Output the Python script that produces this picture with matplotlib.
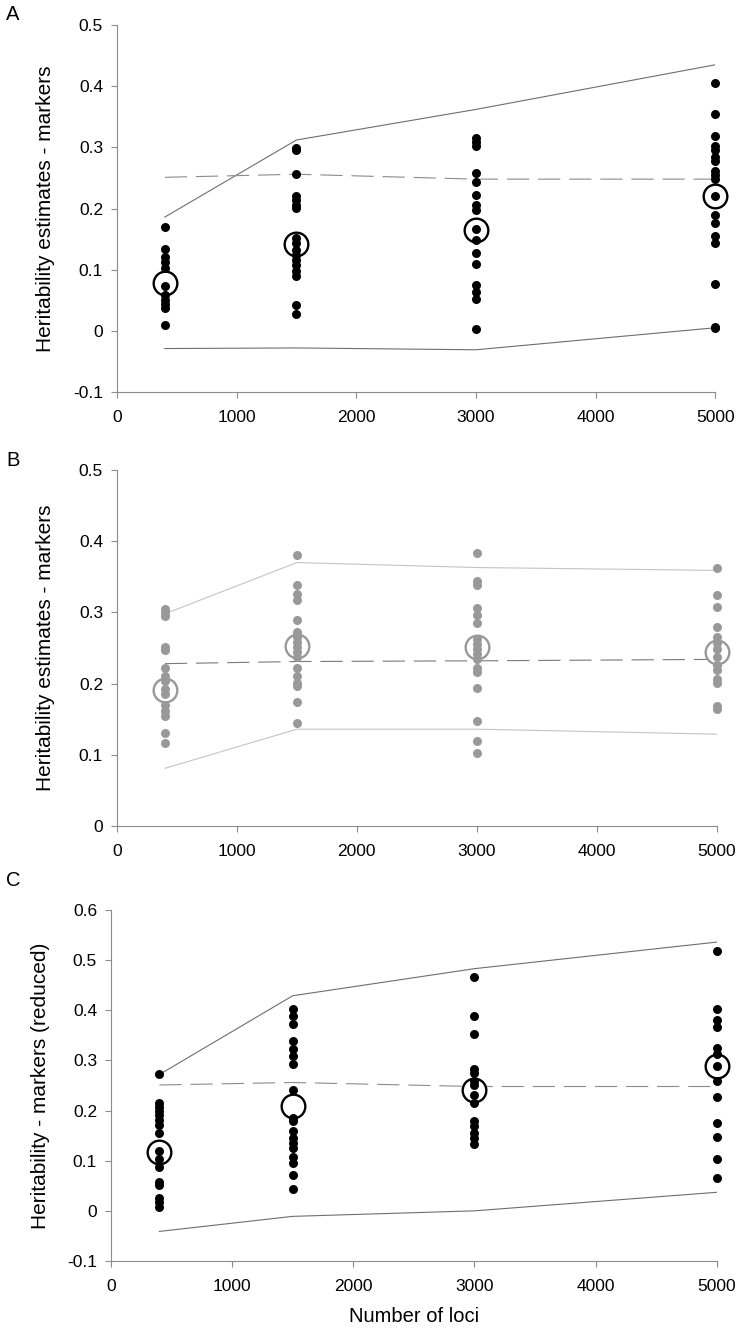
import matplotlib
matplotlib.use('Agg')
import matplotlib.pyplot as plt

plt.rcParams['font.family'] = ['Liberation Sans', 'DejaVu Sans']

# number of loci for each group of points
loci = [400, 1500, 3000, 5000]

# Panel A - heritability estimates from markers
a_pts = [
    [0.17, 0.133, 0.12, 0.113, 0.103, 0.073, 0.058, 0.05, 0.044, 0.037, 0.01],
    [0.299, 0.295, 0.256, 0.221, 0.214, 0.206, 0.201, 0.152, 0.143, 0.132, 0.124,
     0.116, 0.108, 0.098, 0.089, 0.043, 0.027],
    [0.315, 0.309, 0.302, 0.258, 0.244, 0.222, 0.206, 0.198, 0.166, 0.148, 0.127,
     0.11, 0.075, 0.064, 0.052, 0.003],
    [0.405, 0.355, 0.318, 0.303, 0.296, 0.285, 0.278, 0.262, 0.255, 0.248, 0.22,
     0.19, 0.176, 0.155, 0.143, 0.076, 0.007, 0.004],
]
a_mean = [0.078, 0.142, 0.165, 0.22]
a_upper = [0.186, 0.312, 0.362, 0.435]
a_lower = [-0.029, -0.028, -0.031, 0.005]
a_true = [0.251, 0.256, 0.248, 0.248]

# Panel B
b_pts = [
    [0.305, 0.3, 0.295, 0.252, 0.247, 0.222, 0.21, 0.203, 0.193, 0.185, 0.17,
     0.162, 0.155, 0.131, 0.116],
    [0.38, 0.338, 0.326, 0.318, 0.289, 0.273, 0.265, 0.258, 0.252, 0.245, 0.237,
     0.222, 0.21, 0.201, 0.196, 0.174, 0.145],
    [0.384, 0.344, 0.339, 0.306, 0.296, 0.285, 0.262, 0.255, 0.248, 0.241, 0.234,
     0.222, 0.216, 0.194, 0.147, 0.12, 0.103],
    [0.363, 0.325, 0.307, 0.28, 0.265, 0.257, 0.248, 0.237, 0.226, 0.219, 0.206,
     0.201, 0.169, 0.165],
]
b_mean = [0.191, 0.253, 0.251, 0.244]
b_upper = [0.298, 0.370, 0.363, 0.359]
b_lower = [0.081, 0.136, 0.136, 0.129]
b_true = [0.228, 0.231, 0.232, 0.234]

# Panel C - reduced
c_pts = [
    [0.272, 0.215, 0.208, 0.2, 0.192, 0.182, 0.172, 0.155, 0.12, 0.103, 0.087,
     0.058, 0.052, 0.025, 0.017, 0.007],
    [0.402, 0.388, 0.373, 0.338, 0.323, 0.308, 0.292, 0.242, 0.186, 0.179, 0.16,
     0.146, 0.136, 0.126, 0.107, 0.096, 0.072, 0.043],
    [0.466, 0.389, 0.353, 0.283, 0.275, 0.258, 0.25, 0.232, 0.216, 0.179, 0.169,
     0.156, 0.145, 0.134],
    [0.518, 0.403, 0.381, 0.366, 0.325, 0.313, 0.288, 0.258, 0.227, 0.176, 0.147,
     0.104, 0.066],
]
c_mean = [0.118, 0.209, 0.242, 0.288]
c_upper = [0.272, 0.429, 0.483, 0.536]
c_lower = [-0.041, -0.011, 0.0, 0.037]
c_true = [0.251, 0.256, 0.248, 0.248]


def panel(ax, pts, mean, upper, lower, true, ylim, yticks, ylabel,
          dot_col, line_col, dash_col):
    ax.plot(loci, upper, color=line_col, lw=0.8, zorder=1)
    ax.plot(loci, lower, color=line_col, lw=0.8, zorder=1)
    ax.plot(loci, true, color=dash_col, lw=0.8, dashes=(20, 8), zorder=1)
    ax.scatter(loci, mean, s=290, facecolor='white', edgecolor=dot_col,
               linewidth=1.7, zorder=2, clip_on=False)
    for x, ys in zip(loci, pts):
        ax.scatter([x] * len(ys), ys, s=42, color=dot_col, linewidth=0,
                   zorder=3, clip_on=False)
    ax.set_xlim(0, 5000)
    ax.set_ylim(*ylim)
    ax.set_xticks([0, 1000, 2000, 3000, 4000, 5000])
    ax.set_yticks(yticks)
    ax.set_yticklabels(['%g' % t for t in yticks])
    ax.spines['top'].set_visible(False)
    ax.spines['right'].set_visible(False)
    for s in ['left', 'bottom']:
        ax.spines[s].set_color('#8c8c8c')
        ax.spines[s].set_linewidth(0.8)
    ax.tick_params(colors='#8c8c8c', labelcolor='black', labelsize=12.5,
                   length=4, width=0.8)
    ax.tick_params(axis='x', pad=9)
    ax.tick_params(axis='y', pad=6)
    ax.set_ylabel(ylabel, fontsize=15)


fig = plt.figure(figsize=(7.45, 13.31), dpi=100)

ax1 = fig.add_axes([0.157, 0.7055, 0.803, 0.2757])
panel(ax1, a_pts, a_mean, a_upper, a_lower, a_true, (-0.1, 0.5),
      [-0.1, 0, 0.1, 0.2, 0.3, 0.4, 0.5], 'Heritability estimates - markers',
      'black', '#6e6e6e', '#8c8c8c')
ax1.yaxis.set_label_coords(-0.103, 0.5)

ax2 = fig.add_axes([0.157, 0.3794, 0.805, 0.2675])
panel(ax2, b_pts, b_mean, b_upper, b_lower, b_true, (0, 0.5),
      [0, 0.1, 0.2, 0.3, 0.4, 0.5], 'Heritability estimates - markers',
      '#999999', '#c4c4c4', '#7a7a7a')
ax2.yaxis.set_label_coords(-0.103, 0.5)

ax3 = fig.add_axes([0.149, 0.0526, 0.813, 0.2637])
panel(ax3, c_pts, c_mean, c_upper, c_lower, c_true, (-0.1, 0.6),
      [-0.1, 0, 0.1, 0.2, 0.3, 0.4, 0.5, 0.6], 'Heritability - markers (reduced)',
      'black', '#6e6e6e', '#8c8c8c')
ax3.yaxis.set_label_coords(-0.1, 0.5)
ax3.set_xlabel('Number of loci', fontsize=14.5)
ax3.xaxis.set_label_coords(0.5, -0.13)

fig.text(0.008, 1 - 14 / 1331, 'A', fontsize=14.5, va='center')
fig.text(0.008, 1 - 461 / 1331, 'B', fontsize=14.5, va='center')
fig.text(0.008, 1 - 881 / 1331, 'C', fontsize=14.5, va='center')

fig.savefig('out.png', dpi=100)
